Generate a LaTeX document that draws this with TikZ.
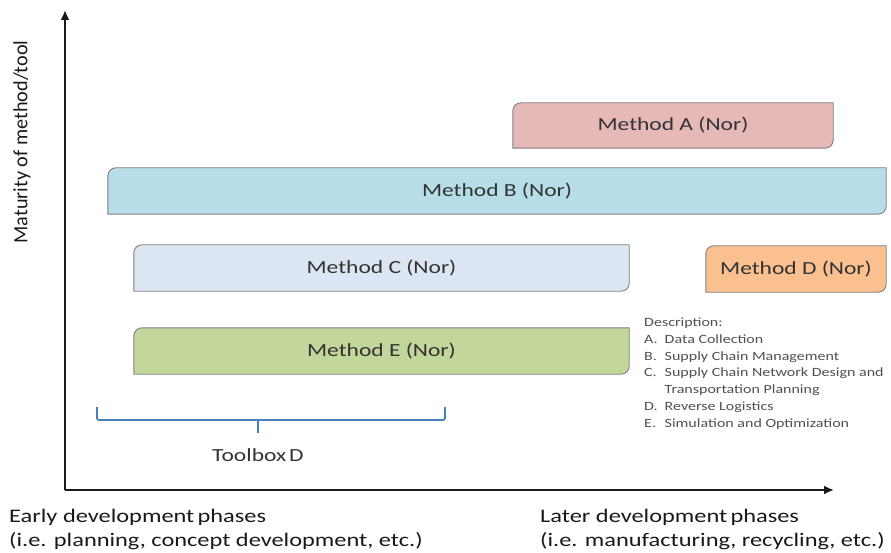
\documentclass[tikz,border=0pt]{standalone}
\usepackage{fontspec}
\setmainfont{Carlito}[FakeStretch=1.27]
\newfontfamily\plainfont{Carlito}
\usetikzlibrary{arrows.meta,backgrounds}

\definecolor{fillA}{HTML}{E6B9B8}
\definecolor{fillB}{HTML}{B7DEE8}
\definecolor{fillC}{HTML}{DCE6F2}
\definecolor{fillD}{HTML}{FAC090}
\definecolor{fillE}{HTML}{C3D69B}
\definecolor{edgegray}{HTML}{7F7F7F}
\definecolor{labelgray}{HTML}{333333}
\definecolor{descgray}{HTML}{505050}
\definecolor{braceblue}{HTML}{4A7EBB}

\tikzset{
  method/.style={inner sep=0pt, text=labelgray,
    font=\fontsize{18.5}{22}\selectfont},
  methodedge/.style={draw=edgegray, line width=0.9pt},
  axis/.style={line width=2pt, draw=black!90,
    -{Latex[length=10pt,width=9pt]}},
  bracket/.style={draw=braceblue, line width=1.8pt, rounded corners=2pt},
  phase/.style={align=left, anchor=west, inner sep=0pt, text=black!90,
    font=\fontsize{19.2}{24}\selectfont},
}

% box with rounded top-left and bottom-right corners, drawn behind the node
\newcommand{\diagbox}[2]{%
  \begin{scope}[on background layer]
    \path[methodedge, fill=#2]
      (#1.south west) -- ([yshift=-8pt]#1.north west)
      arc[start angle=180, end angle=90, radius=8pt]
      -- (#1.north east) -- ([yshift=8pt]#1.south east)
      arc[start angle=0, end angle=-90, radius=8pt]
      -- cycle;
  \end{scope}}

\begin{document}
\begin{tikzpicture}[x=1pt, y=-1pt]
  \useasboundingbox (0,0) rectangle (891,553);

  % axes
  \coordinate (origin) at (65,490);
  \coordinate (ytip) at (65,10);
  \coordinate (xtip) at (834,490);
  \draw[axis] (origin) -- (ytip);
  \draw[axis] (origin) -- (xtip);

  \node[rotate=90, inner sep=0pt, text=black!90,
        font=\plainfont\fontsize{20.2}{22}\selectfont]
        (ylabel) at (22,142) {Maturity of method/tool};

  % methods
  \node[method, minimum width=320pt, minimum height=45pt] (mA) at (673,125.5) {Method A (Nor)};
  \node[method, minimum width=778pt, minimum height=46pt] (mB) at (497,191) {Method B (Nor)};
  \node[method, minimum width=495pt, minimum height=46pt] (mC) at (381.5,268) {Method C (Nor)};
  \node[method, minimum width=180pt, minimum height=46pt] (mD) at (796,269) {Method D (Nor)};
  \node[method, minimum width=495pt, minimum height=46pt] (mE) at (381.5,351) {Method E (Nor)};
  \diagbox{mA}{fillA}
  \diagbox{mB}{fillB}
  \diagbox{mC}{fillC}
  \diagbox{mD}{fillD}
  \diagbox{mE}{fillE}

  % description list
  \node[anchor=north west, inner sep=0pt, text=descgray] (desc) at (644,315) {%
    \fontsize{12.6}{16.7}\selectfont
    \begin{tabular}{@{}l@{\hspace{7pt}}l@{}}
      \multicolumn{2}{@{}l@{}}{Description:}\\
      A. & Data Collection\\
      B. & Supply Chain Management\\
      C. & Supply Chain Network  Design and\\
         & Transportation  Planning\\
      D. & Reverse Logistics\\
      E. & Simulation  and Optimization
    \end{tabular}};

  % toolbox bracket
  \coordinate (bl) at (97,407);
  \coordinate (br) at (445,407);
  \coordinate (bmid) at (258,420);
  \coordinate (btick) at (258,433);
  \draw[bracket] (bl) |- (bmid) -| (br);
  \draw[bracket] (bmid) -- (btick);
  \node[inner sep=0pt, text=labelgray, font=\fontsize{18.5}{22}\selectfont]
        (toolbox) at (258,455) {Toolbox\,D};

  % phase labels
  \node[phase] (early) at (9,529) {Early development\,phases\\(i.e. planning, concept development, etc.)};
  \node[phase] (later) at (540,529) {Later development\,phases\\(i.e. manufacturing, recycling, etc.)};
\end{tikzpicture}
\end{document}
